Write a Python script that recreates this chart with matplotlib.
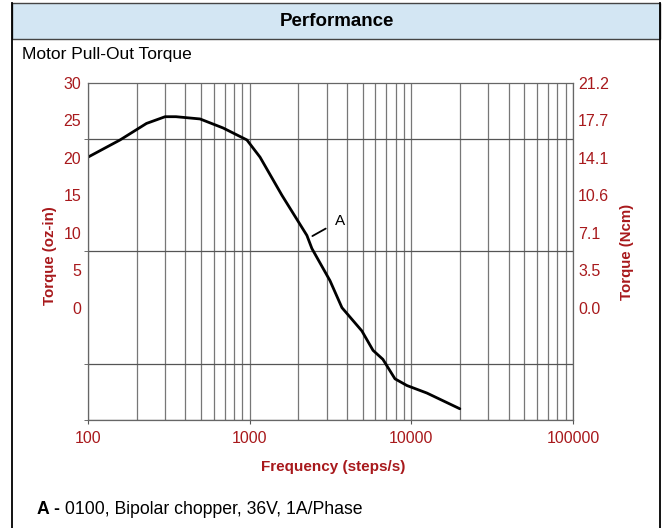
import matplotlib
matplotlib.use('Agg')
import matplotlib.pyplot as plt
from matplotlib.patches import Rectangle
from matplotlib.lines import Line2D

freq = [100, 158, 230, 300, 350, 493, 684, 961, 1159, 1584, 2259, 2426,
        3140, 3722, 4941, 5795, 6670, 7920, 9400, 12480, 19950]
torque = [20.1, 22.4, 24.6, 25.5, 25.5, 25.2, 24.0, 22.4, 20.1, 15.0, 9.65, 7.9,
          3.6, 0.0, -3.1, -5.7, -6.9, -9.5, -10.4, -11.4, -13.5]

left_ticks = [0, 5, 10, 15, 20, 25, 30]
right_labels = ['0.0', '3.5', '7.1', '10.6', '14.1', '17.7', '21.2']
grid_rows = [-15, -7.5, 0, 7.5, 15, 22.5, 30]
x_ticks = [100, 1000, 10000, 100000]
x_labels = ['100', '1000', '10000', '100000']

red = '#a8191c'
plt.rcParams['font.family'] = ['Liberation Sans', 'DejaVu Sans']
W, H = 665, 528

fig = plt.figure(figsize=(W / 100, H / 100), dpi=100)

# outer box and header band
fig.patches.append(Rectangle((12 / W, 1 - 39 / H), 648 / W, 36 / H, transform=fig.transFigure,
                             facecolor='#d3e6f3', edgecolor='#444444', linewidth=1.0))
fig.lines.append(Line2D([12 / W, 12 / W], [0, 1 - 3 / H], transform=fig.transFigure, color='black', lw=1.3))
fig.lines.append(Line2D([660 / W, 660 / W], [0, 1 - 3 / H], transform=fig.transFigure, color='black', lw=1.3))
fig.text(337 / W, 1 - 21 / H, 'Performance', ha='center', va='center', fontsize=13.5, fontweight='bold')
fig.text(22 / W, 1 - 55 / H, 'Motor Pull-Out Torque', ha='left', va='center', fontsize=12.5)

ax = fig.add_axes([88 / W, 1 - 420 / H, 485 / W, 337 / H])

# footer legend
t1 = fig.text(37 / W, 1 - 510 / H, 'A -', ha='left', va='center', fontsize=12.7, fontweight='bold')
ax.annotate(' 0100, Bipolar chopper, 36V, 1A/Phase', xy=(1, 0.5), xycoords=t1,
            ha='left', va='center', fontsize=12.7, annotation_clip=False)

ax.plot(freq, torque, color='black', linewidth=2, solid_capstyle='round')
ax.set_xscale('log')
ax.set_xlim(100, 100000)
ax.set_ylim(-15, 30)

# label on the curve
ax.annotate('A', xy=(2280, 9.2), xytext=(3600, 11.6), ha='center', va='center', fontsize=11,
            arrowprops=dict(arrowstyle='-', color='black', lw=1.3, shrinkB=4, shrinkA=5))

ax.set_xticks(x_ticks)
ax.set_xticklabels(x_labels)
ax.set_yticks(left_ticks)
ax.set_yticks(grid_rows, minor=True)
ax.tick_params(axis='y', which='major', length=0, pad=5, labelcolor=red, labelsize=11.5)
ax.tick_params(axis='y', which='minor', length=3, color='#555555')
ax.tick_params(axis='x', which='major', length=3, color='#555555', pad=5, labelcolor=red, labelsize=11.5)
ax.tick_params(axis='x', which='minor', length=0)

ax.grid(axis='x', which='both', color='#777777', linewidth=0.9)
ax.grid(axis='y', which='minor', color='#555555', linewidth=0.9)
for s in ax.spines.values():
    s.set_color('#666666')
    s.set_linewidth(0.9)

ax.set_xlabel('Frequency (steps/s)', color=red, fontsize=11, fontweight='bold')
ax.xaxis.set_label_coords(0.505, -0.118)
ax.set_ylabel('Torque (oz-in)', color=red, fontsize=10.8, fontweight='bold')
ax.yaxis.set_label_coords(-0.064, 0.487)

ax2 = ax.twinx()
ax2.set_ylim(ax.get_ylim())
ax2.set_yticks(left_ticks)
ax2.set_yticklabels(right_labels)
ax2.tick_params(axis='y', length=0, pad=3.6, labelcolor=red, labelsize=11.5)
ax2.set_ylabel('Torque (Ncm)', color=red, fontsize=10.8, fontweight='bold')
ax2.yaxis.set_label_coords(1.096, 0.499)
for s in ax2.spines.values():
    s.set_visible(False)

fig.savefig('out.png', dpi=100)
